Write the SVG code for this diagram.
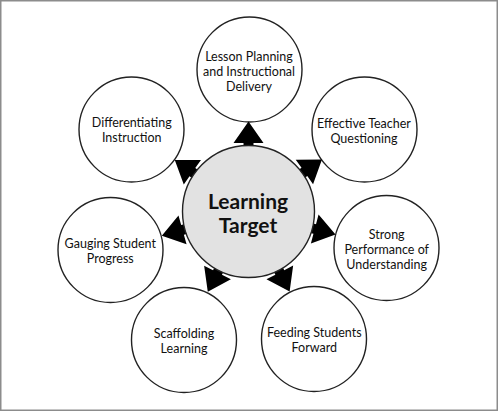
<svg xmlns="http://www.w3.org/2000/svg" xmlns:xlink="http://www.w3.org/1999/xlink" width="498" height="411" viewBox="0 0 498 411">
<style>
.frame{fill:#fff;stroke:#8c8c8c;stroke-width:1.5}
.node{fill:#fff;stroke:#222;stroke-width:1.4}
.center{fill:#e2e2e2;stroke:#222;stroke-width:1.4}
.t{font-family:Lato,"Noto Sans","DejaVu Sans",sans-serif;font-size:12.5px;fill:#111;text-anchor:middle}
.tc{font-family:Lato,"Noto Sans","DejaVu Sans",sans-serif;font-size:21px;font-weight:bold;fill:#111;text-anchor:middle}
.arr{fill:#000}
</style>
<defs>
<polygon id="arr" points="0,-90 15,-68.5 5,-68.5 5,-60 -5,-60 -5,-68.5 -15,-68.5"/>
</defs>
<rect class="frame" x="0.75" y="0.75" width="496.5" height="409.5"/>
<g id="n-lesson">
<circle class="node" cx="249.5" cy="69.5" r="52.5"/>
<text class="t" x="249" y="60.7">Lesson Planning</text>
<text class="t" x="249" y="75.7">and Instructional</text>
<text class="t" x="249" y="90.7">Delivery</text>
</g>
<g id="n-effective">
<circle class="node" cx="364.5" cy="129.5" r="52.5"/>
<text class="t" x="364" y="128">Effective Teacher</text>
<text class="t" x="364" y="143">Questioning</text>
</g>
<g id="n-strong">
<circle class="node" cx="386.5" cy="248" r="52.5"/>
<text class="t" x="386.7" y="238.7">Strong</text>
<text class="t" x="386.7" y="253.7">Performance of</text>
<text class="t" x="386.7" y="268.7">Understanding</text>
</g>
<g id="n-feeding">
<circle class="node" cx="314" cy="339" r="52.5"/>
<text class="t" x="314.3" y="336.7">Feeding Students</text>
<text class="t" x="314.3" y="351.7">Forward</text>
</g>
<g id="n-scaffolding">
<circle class="node" cx="184" cy="340" r="52.5"/>
<text class="t" x="184" y="337.7">Scaffolding</text>
<text class="t" x="184" y="352.7">Learning</text>
</g>
<g id="n-gauging">
<circle class="node" cx="110.5" cy="250" r="52.5"/>
<text class="t" x="110.3" y="248.3">Gauging Student</text>
<text class="t" x="110.3" y="263.3">Progress</text>
</g>
<g id="n-differentiating">
<circle class="node" cx="131.5" cy="129.5" r="52.5"/>
<text class="t" x="131.7" y="127.3">Differentiating</text>
<text class="t" x="131.7" y="142.3">Instruction</text>
</g>
<g id="connectors" class="arr">
<use xlink:href="#arr" transform="translate(248.5 211.5) rotate(0)"/>
<use xlink:href="#arr" transform="translate(248.5 211.5) rotate(54.7)"/>
<use xlink:href="#arr" transform="translate(248.5 211.5) rotate(104.8)"/>
<use xlink:href="#arr" transform="translate(248.5 211.5) rotate(152.8)"/>
<use xlink:href="#arr" transform="translate(248.5 211.5) rotate(206.9)"/>
<use xlink:href="#arr" transform="translate(248.5 211.5) rotate(254.4)"/>
<use xlink:href="#arr" transform="translate(248.5 211.5) rotate(305)"/>
</g>
<g id="n-center">
<circle class="center" cx="248.5" cy="211.5" r="66"/>
<text class="tc" x="248" y="209.3">Learning</text>
<text class="tc" x="248" y="233.3">Target</text>
</g>
</svg>
